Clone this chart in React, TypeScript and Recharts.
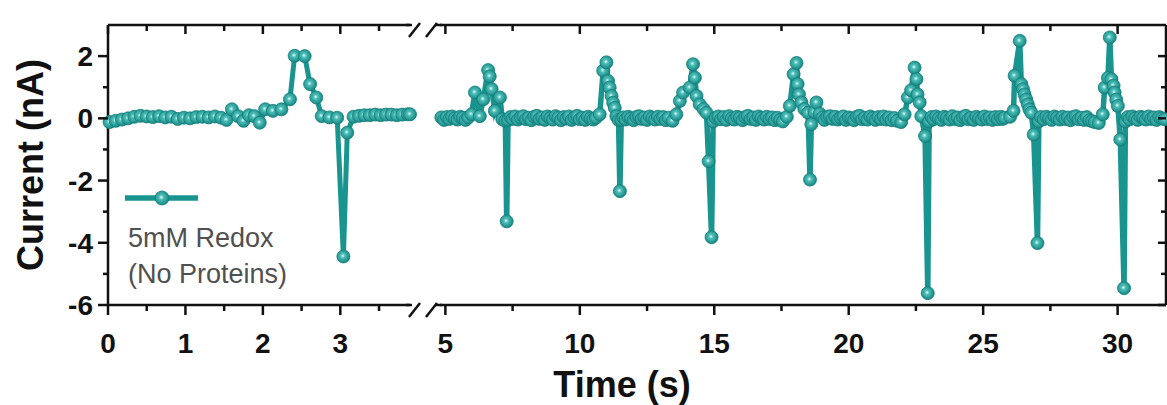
import { LineChart, Line, XAxis, YAxis, Legend, Label } from "recharts";

const TEAL = "#19948f";
const INK = "#111";
const FONT = '"Liberation Sans", Arial, sans-serif';

// left panel, 0 - 3.9 s  [time (s), current (nA)]
const sweepA: [number, number][] = [
  [0.02, -0.12], [0.1, -0.08], [0.18, -0.04], [0.26, 0.0], [0.34, 0.05], [0.42, 0.08], [0.5, 0.06],
  [0.58, 0.04], [0.66, 0.07], [0.74, 0.03], [0.82, 0.05], [0.9, -0.02], [0.98, 0.02], [1.06, 0.0],
  [1.14, 0.04], [1.22, 0.05], [1.3, 0.03], [1.38, 0.06], [1.46, 0.02], [1.53, -0.05], [1.6, 0.29],
  [1.68, 0.07], [1.75, -0.08], [1.82, 0.1], [1.89, 0.07], [1.96, -0.14], [2.03, 0.29], [2.13, 0.24],
  [2.24, 0.29], [2.35, 0.61], [2.41, 2.01], [2.54, 2.0], [2.61, 1.1], [2.69, 0.67], [2.76, 0.07],
  [2.86, 0.03], [2.96, 0.02], [3.04, -4.44], [3.09, -0.46], [3.17, 0.05], [3.24, 0.08], [3.31, 0.1],
  [3.38, 0.1], [3.45, 0.12], [3.52, 0.1], [3.59, 0.12], [3.66, 0.12], [3.73, 0.1], [3.8, 0.12],
  [3.87, 0.13], [3.9, 0.13],
];

// right panel, 5 - 32 s: quiet stretches and the seven events
const base0: [number, number][] = [
  [4.85, 0.03], [4.95, -0.05], [5.05, 0.04], [5.15, -0.02], [5.25, 0.06], [5.35, 0.0], [5.45, -0.04],
  [5.55, 0.05], [5.65, 0.02], [5.75, -0.05], [5.85, 0.03],
];
const spike1: [number, number][] = [
  [5.97, 0.13], [6.1, 0.83], [6.28, 0.07], [6.41, 0.61], [6.59, 1.55], [6.65, 1.35], [6.72, 0.94],
  [6.84, 0.24], [7.03, 0.67], [7.12, -0.03], [7.23, -0.08], [7.28, -3.31], [7.33, -0.05],
];
const base1: [number, number][] = [
  [7.42, 0.04], [7.5, -0.02], [7.6, 0.06], [7.7, -0.04], [7.8, 0.03], [7.9, 0.07], [8.0, -0.03], [8.1, 0.02],
  [8.2, -0.06], [8.3, 0.05], [8.4, 0.08], [8.5, -0.02], [8.6, 0.03], [8.7, -0.05], [8.8, 0.06], [8.9, 0.01],
  [9.0, -0.04], [9.1, 0.07], [9.2, 0.02], [9.3, -0.06], [9.4, 0.04], [9.5, -0.01], [9.6, 0.06], [9.7, -0.05],
  [9.8, 0.03], [9.9, 0.08], [10.0, -0.03], [10.1, 0.02], [10.2, -0.05], [10.3, 0.05], [10.4, 0.0], [10.5, -0.04],
];
const spike2: [number, number][] = [
  [10.6, 0.02], [10.74, 0.13], [10.87, 1.53], [10.99, 1.8], [11.05, 1.2], [11.11, 0.99], [11.18, 0.72],
  [11.24, 0.5], [11.3, 0.34], [11.36, 0.07], [11.44, -0.05], [11.49, -2.34], [11.54, -0.05],
];
const base2: [number, number][] = [
  [11.62, 0.03], [11.7, -0.04], [11.8, 0.05], [11.9, 0.0], [12.0, -0.06], [12.1, 0.04], [12.2, 0.07],
  [12.3, -0.02], [12.4, 0.03], [12.5, -0.05], [12.6, 0.06], [12.7, 0.01], [12.8, -0.04], [12.9, 0.05],
  [13.0, -0.02], [13.1, 0.04], [13.2, -0.06], [13.3, 0.02],
];
const spike3: [number, number][] = [
  [13.45, -0.08], [13.59, 0.13], [13.72, 0.56], [13.84, 0.83], [14.09, 0.99], [14.21, 1.74], [14.28, 1.31],
  [14.34, 0.72], [14.46, 0.45], [14.6, 0.3], [14.71, 0.18], [14.79, -1.38], [14.9, -3.82], [14.96, -0.1],
];
const base3: [number, number][] = [
  [15.05, 0.02], [15.15, 0.06], [15.25, -0.03], [15.35, 0.04], [15.45, -0.05], [15.55, 0.07], [15.65, 0.0],
  [15.75, -0.04], [15.85, 0.05], [15.95, 0.02], [16.05, -0.06], [16.15, 0.04], [16.25, 0.08], [16.35, -0.02],
  [16.45, 0.03], [16.55, -0.05], [16.65, 0.06], [16.75, 0.01], [16.85, -0.04], [16.95, 0.05], [17.05, -0.02],
  [17.15, 0.03], [17.25, -0.06], [17.35, 0.02], [17.45, -0.05],
];
const spike4: [number, number][] = [
  [17.55, -0.1], [17.7, 0.05], [17.81, 0.4], [17.95, 1.42], [18.06, 1.78], [18.1, 1.1], [18.15, 0.77],
  [18.24, 0.51], [18.35, 0.3], [18.49, 0.18], [18.56, -1.97], [18.61, -0.19], [18.72, 0.2], [18.8, 0.51], [18.92, 0.15],
];
const base4: [number, number][] = [
  [19.02, 0.03], [19.1, -0.05], [19.2, 0.04], [19.3, 0.07], [19.4, -0.02], [19.5, 0.05], [19.6, -0.04],
  [19.7, 0.02], [19.8, 0.06], [19.9, -0.05], [20.0, 0.03], [20.1, 0.0], [20.2, -0.06], [20.3, 0.05],
  [20.4, 0.08], [20.5, -0.03], [20.6, 0.02], [20.7, -0.04], [20.8, 0.06], [20.9, 0.01], [21.0, -0.05],
  [21.1, 0.04], [21.2, -0.02], [21.3, 0.06], [21.4, -0.04], [21.5, 0.03], [21.6, -0.06], [21.7, 0.01],
];
const spike5: [number, number][] = [
  [21.8, -0.08], [21.95, -0.12], [22.08, 0.13], [22.2, 0.67], [22.32, 0.9], [22.45, 1.63], [22.52, 1.26],
  [22.56, 0.77], [22.64, 0.51], [22.7, 0.07], [22.84, -0.57], [22.94, -5.62], [22.99, -0.1],
];
const base5: [number, number][] = [
  [23.08, 0.04], [23.15, -0.03], [23.25, 0.06], [23.35, 0.0], [23.45, -0.05], [23.55, 0.05], [23.65, 0.02],
  [23.75, -0.04], [23.85, 0.07], [23.95, -0.02], [24.05, 0.03], [24.15, -0.06], [24.25, 0.04], [24.35, 0.08],
  [24.45, -0.03], [24.55, 0.02], [24.65, -0.05], [24.75, 0.05], [24.85, 0.0], [24.95, -0.04], [25.05, 0.06],
  [25.15, -0.02], [25.25, 0.03], [25.35, -0.05], [25.45, 0.04], [25.55, -0.03], [25.65, 0.05], [25.72, -0.02],
];
const spike6: [number, number][] = [
  [25.8, 0.02], [26.0, 0.05], [26.13, 0.24], [26.17, 1.37], [26.36, 2.49], [26.42, 1.1], [26.48, 0.94],
  [26.54, 0.77], [26.6, 0.61], [26.66, 0.45], [26.72, 0.29], [26.79, 0.18], [26.88, -0.52], [27.02, -4.01], [27.07, -0.1],
];
const base6: [number, number][] = [
  [27.15, 0.04], [27.25, -0.03], [27.35, 0.05], [27.45, 0.0], [27.55, -0.05], [27.65, 0.06], [27.75, 0.02],
  [27.85, -0.04], [27.95, 0.05], [28.05, -0.02], [28.15, 0.03], [28.25, -0.06], [28.35, 0.04], [28.45, 0.07],
  [28.55, -0.03], [28.65, 0.02], [28.75, -0.05], [28.85, 0.04], [28.95, -0.06], [29.05, -0.09],
];
const spike7: [number, number][] = [
  [29.15, -0.12], [29.3, -0.15], [29.45, 0.13], [29.52, 0.99], [29.64, 1.3], [29.71, 2.6], [29.77, 1.26],
  [29.85, 1.05], [29.89, 0.83], [29.95, 0.6], [30.01, 0.4], [30.1, -0.68], [30.24, -5.46], [30.29, -0.1],
];
const base7: [number, number][] = [
  [30.38, 0.04], [30.45, -0.03], [30.55, 0.06], [30.65, 0.0], [30.75, -0.05], [30.85, 0.05], [30.95, 0.02],
  [31.05, -0.04], [31.15, 0.06], [31.25, -0.02], [31.35, 0.03], [31.45, -0.05], [31.55, 0.04], [31.65, 0.0], [31.75, -0.03],
];

const leftTicksX = [0, 0.5, 1, 1.5, 2, 2.5, 3, 3.5];
const rightTicksX = [5, 7.5, 10, 12.5, 15, 17.5, 20, 22.5, 25, 27.5, 30];
const ticksY = [-6, -5, -4, -3, -2, -1, 0, 1, 2];

const toRows = (parts: [number, number][][]) => parts.flat().map(([t, i]) => ({ t, i }));
const leftRows = toRows([sweepA]);
const rightRows = toRows([base0, spike1, base1, spike2, base2, spike3, base3, spike4, base4, spike5, base5, spike6, base6, spike7, base7]);

const TOP = 25;
const BOTTOM = 305;
const LEFT_OFFSET = 420; // where the right chart starts on the page

const ball = (id: string) => (
  <defs>
    <radialGradient id={id} cx="45%" cy="45%" r="60%">
      <stop offset="0%" stopColor="#e4fdfa" />
      <stop offset="28%" stopColor="#4cbdb7" />
      <stop offset="100%" stopColor="#0f7f7b" />
    </radialGradient>
  </defs>
);

const dotFor = (id: string) => (p: any) => (
  <circle key={`d${p.index}`} cx={p.cx} cy={p.cy} r={6.5} fill={`url(#${id})`} stroke="#137f7b" strokeWidth={0.8} />
);

const tickText = { fontFamily: FONT, fontWeight: 700, fontSize: 28, fill: INK };

const makeBottomTick = (isMajor: (v: number) => boolean) => (p: any) => {
  const v = p.payload.value;
  const major = isMajor(v);
  return (
    <g>
      <line x1={p.x} x2={p.x} y1={BOTTOM} y2={BOTTOM + (major ? 10 : 6)} stroke={INK} strokeWidth={2.5} />
      {major && (
        <text x={p.x} y={353} textAnchor="middle" style={tickText}>
          {v}
        </text>
      )}
    </g>
  );
};

const makeTopTick = (isMajor: (v: number) => boolean) => (p: any) => {
  const major = isMajor(p.payload.value);
  return <line x1={p.x} x2={p.x} y1={TOP} y2={TOP + (major ? 9 : 6)} stroke={INK} strokeWidth={2.5} />;
};

const LeftYTick = (p: any) => {
  const v = p.payload.value;
  const major = v % 2 === 0;
  return (
    <g>
      <line x1={108} x2={108 - (major ? 10 : 5)} y1={p.y} y2={p.y} stroke={INK} strokeWidth={2.5} />
      {major && (
        <text x={93} y={p.y} dy={10} textAnchor="end" style={tickText}>
          {v}
        </text>
      )}
    </g>
  );
};

const RightYTick = (p: any) => {
  const major = p.payload.value % 2 === 0;
  return <line x1={746} x2={746 - (major ? 8 : 5)} y1={p.y} y2={p.y} stroke={INK} strokeWidth={2.5} />;
};

const isInt = (v: number) => Number.isInteger(v);
const isFive = (v: number) => v % 5 === 0;

const LegendBox = () => (
  <svg width={260} height={110} style={{ overflow: "visible" }}>
    <line x1={5} x2={78} y1={18} y2={18} stroke={TEAL} strokeWidth={5.5} />
    <circle cx={42} cy={18} r={7} fill="url(#ballL)" stroke="#137f7b" strokeWidth={0.8} />
    <text x={8} y={67} style={{ fontFamily: FONT, fontSize: 27, fill: "#505050" }}>5mM Redox</text>
    <text x={8} y={103} style={{ fontFamily: FONT, fontSize: 27, fill: "#505050" }}>(No Proteins)</text>
  </svg>
);

const BreakMarks = () => (
  <svg width={1167} height={405} style={{ position: "absolute", left: 0, top: 0, pointerEvents: "none" }}>
    {[TOP, BOTTOM].map((y) => (
      <g key={y} stroke={INK} strokeWidth={2.5} fill="none">
        <line x1={406} x2={412} y1={y} y2={y} />
        <line x1={409} x2={420} y1={y + 12} y2={y - 2} />
        <line x1={426} x2={437} y1={y + 12} y2={y - 2} />
        <line x1={435} x2={442} y1={y} y2={y} />
      </g>
    ))}
  </svg>
);

export default function App() {
  return (
    <div style={{ position: "relative", width: 1167, height: 405, background: "#fff", overflow: "hidden" }}>
      <style>{"body{margin:0}"}</style>
      <div style={{ position: "absolute", left: 0, top: 0 }}>
        <LineChart width={LEFT_OFFSET} height={405} data={leftRows} margin={{ top: 24, right: 10, bottom: 0, left: 0 }}>
          {ball("ballL")}
          <XAxis xAxisId="b" type="number" dataKey="t" domain={[0, 3.9]} ticks={leftTicksX} height={100}
            axisLine={{ stroke: INK, strokeWidth: 2.5 }} tickLine={false} tick={makeBottomTick(isInt)} interval={0} />
          <XAxis xAxisId="t" orientation="top" type="number" dataKey="t" domain={[0, 3.9]} ticks={leftTicksX} height={1}
            axisLine={{ stroke: INK, strokeWidth: 2.5 }} tickLine={false} tick={makeTopTick(isInt)} interval={0} />
          <YAxis yAxisId="l" type="number" domain={[-6, 3]} ticks={ticksY} width={108} interval={0}
            axisLine={{ stroke: INK, strokeWidth: 2.5 }} tickLine={false} tick={<LeftYTick />}>
            <Label
              content={() => (
                <text x={43} y={165} transform="rotate(-90 43 165)" textAnchor="middle"
                  style={{ fontFamily: FONT, fontWeight: 700, fontSize: 36, fill: INK }}>
                  Current (nA)
                </text>
              )}
            />
          </YAxis>
          <Legend layout="horizontal" verticalAlign="middle" align="center" content={<LegendBox />}
            wrapperStyle={{ left: 120, top: 180, width: 260, height: 110 }} />
          <Line xAxisId="b" yAxisId="l" dataKey="i" type="linear" stroke={TEAL} strokeWidth={5}
            dot={dotFor("ballL")} activeDot={false} isAnimationActive={false} />
        </LineChart>
      </div>
      <div style={{ position: "absolute", left: LEFT_OFFSET, top: 0 }}>
        <LineChart width={1167 - LEFT_OFFSET} height={405} data={rightRows} margin={{ top: 24, right: 0, bottom: 0, left: 20 }}>
          {ball("ballR")}
          <XAxis xAxisId="b" type="number" dataKey="t" domain={[4.8, 31.8]} ticks={rightTicksX} height={100}
            axisLine={{ stroke: INK, strokeWidth: 2.5 }} tickLine={false} tick={makeBottomTick(isFive)} interval={0}>
            <Label
              content={() => (
                <text x={622 - LEFT_OFFSET} y={397} textAnchor="middle"
                  style={{ fontFamily: FONT, fontWeight: 700, fontSize: 36, fill: INK }}>
                  Time (s)
                </text>
              )}
            />
          </XAxis>
          <XAxis xAxisId="t" orientation="top" type="number" dataKey="t" domain={[4.8, 31.8]} ticks={rightTicksX} height={1}
            axisLine={{ stroke: INK, strokeWidth: 2.5 }} tickLine={false} tick={makeTopTick(isFive)} interval={0} />
          <YAxis yAxisId="r" orientation="right" type="number" domain={[-6, 3]} ticks={ticksY} width={1} interval={0}
            axisLine={{ stroke: INK, strokeWidth: 2.5 }} tickLine={false} tick={<RightYTick />} />
          <Line xAxisId="b" yAxisId="r" dataKey="i" type="linear" stroke={TEAL} strokeWidth={5.5}
            dot={dotFor("ballR")} activeDot={false} isAnimationActive={false} />
        </LineChart>
      </div>
      <BreakMarks />
    </div>
  );
}
